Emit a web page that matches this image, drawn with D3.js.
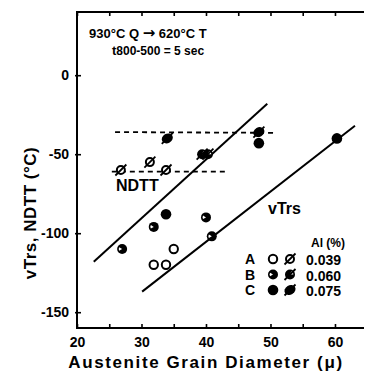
<!DOCTYPE html>
<html><head><meta charset="utf-8">
<script src="https://cdn.jsdelivr.net/npm/d3@7"></script>
<style>body{margin:0;background:#fff}svg{display:block}text{font-family:"Liberation Sans",Arial,sans-serif;fill:#000}</style>
</head><body><svg id="c" width="365" height="371"></svg>
<script>
// ---- data ----
const xTicks = [20, 30, 40, 50, 60];
const xMinorTicks = [25, 35, 45, 55];
const yTicks = [0, -50, -100, -150];
// vTrs points (plain circles): group A/B/C
const vtrsX = [31.9, 33.8, 35.0, 27.0, 31.9, 40.0, 40.9, 33.8, 48.2, 60.3];
const vtrsY = [-120, -120, -110, -110, -96, -90, -102, -88, -43, -40];
const vtrsG = ["A", "A", "A", "B", "B", "B", "B", "C", "C", "C"];
// NDTT points (slashed circles)
const ndttX = [26.8, 31.3, 33.8, 39.4, 40.3, 34.0, 48.2];
const ndttY = [-60, -55, -60, -50, -50, -40, -36];
const ndttG = ["A", "A", "A", "B", "B", "C", "C"];
// fitted lines
const upperLineX = [22.6, 49.5];
const upperLineY = [-118, -18];
const lowerLineX = [30.1, 63.1];
const lowerLineY = [-137, -32];
const dashHighX = [25.9, 51.0];
const dashHighY = [-36, -36.5];
const dashLowX = [25.4, 43.5];
const dashLowY = [-61, -61];
const legendGroups = ["A", "B", "C"];
const legendAl = ["0.039", "0.060", "0.075"];

const svg = d3.select("#c");
const x = d3.scaleLinear().domain([20, 64.5]).range([77, 364]);
const y = d3.scaleLinear().domain([-160, 40]).range([328, 12]);

// frame
const g = svg.append("g");
g.append("line").attr("x1", 77).attr("x2", 77).attr("y1", 12).attr("y2", 328).attr("stroke", "#000").attr("stroke-width", 2);
g.append("line").attr("x1", 76).attr("x2", 364).attr("y1", 12).attr("y2", 12).attr("stroke", "#000").attr("stroke-width", 2);
g.append("line").attr("x1", 76).attr("x2", 364).attr("y1", 328).attr("y2", 328).attr("stroke", "#000").attr("stroke-width", 2);

// axes via d3
const xb = svg.append("g").attr("transform", "translate(0,328)")
  .call(d3.axisBottom(x).tickValues(xTicks).tickSize(-4).tickPadding(9).tickFormat(d3.format("d")));
const xbm = svg.append("g").attr("transform", "translate(0,328)")
  .call(d3.axisBottom(x).tickValues(xMinorTicks).tickSize(-4).tickFormat(""));
const xt = svg.append("g").attr("transform", "translate(0,12)")
  .call(d3.axisTop(x).tickValues(xTicks.concat(xMinorTicks)).tickSize(-4).tickFormat(""));
const yl = svg.append("g").attr("transform", "translate(77,0)")
  .call(d3.axisLeft(y).tickValues(yTicks).tickSize(4).tickPadding(4).tickFormat(d => d < 0 ? "-" + Math.abs(d) : d));
[xb, xbm, xt, yl].forEach(a => {
  a.select(".domain").remove();
  a.selectAll(".tick line").attr("stroke", "#000").attr("stroke-width", 1.6);
  a.selectAll("text").attr("font-size", 14).attr("font-weight", "bold").attr("font-family", "Liberation Sans, Arial, sans-serif").attr("fill", "#000");
});
yl.selectAll(".tick line").attr("x1", -2).attr("x2", 4);

// lines
const line = d3.line().x(d => x(d[0])).y(d => y(d[1]));
const mk = (xs, ys) => xs.map((v, i) => [v, ys[i]]);
svg.append("path").attr("d", line(mk(upperLineX, upperLineY))).attr("stroke", "#000").attr("stroke-width", 2).attr("fill", "none");
svg.append("path").attr("d", line(mk(lowerLineX, lowerLineY))).attr("stroke", "#000").attr("stroke-width", 2).attr("fill", "none");
svg.append("path").attr("d", line(mk(dashHighX, dashHighY))).attr("stroke", "#000").attr("stroke-width", 1.8).attr("stroke-dasharray", "5,4").attr("fill", "none");
svg.append("path").attr("d", line(mk(dashLowX, dashLowY))).attr("stroke", "#000").attr("stroke-width", 1.8).attr("stroke-dasharray", "5,4").attr("fill", "none");

const R = 5;
function plainMarker(sel, grp) {
  if (grp === "A") {
    sel.append("circle").attr("r", R - 0.8).attr("fill", "#fff").attr("stroke", "#000").attr("stroke-width", 2);
  } else if (grp === "B") {
    sel.append("circle").attr("r", R).attr("fill", "#000");
    const arc = d3.arc().innerRadius(0).outerRadius(R - 1.6).startAngle(-2.1).endAngle(-1.0);
    sel.append("path").attr("d", arc()).attr("fill", "#fff");
  } else {
    sel.append("circle").attr("r", R + 0.3).attr("fill", "#000");
  }
}
function slashMarker(sel, grp) {
  if (grp === "A") {
    sel.append("circle").attr("r", R - 1).attr("fill", "#fff").attr("stroke", "#000").attr("stroke-width", 2);
  } else if (grp === "B") {
    sel.append("circle").attr("r", R).attr("fill", "#000");
    const arc = d3.arc().innerRadius(0).outerRadius(R - 1.6).startAngle(0.4).endAngle(1.6);
    sel.append("path").attr("d", arc()).attr("fill", "#fff");
  } else {
    sel.append("ellipse").attr("rx", R + 0.8).attr("ry", R - 0.3).attr("transform", "rotate(-30)").attr("fill", "#000");
  }
  sel.append("line").attr("x1", -R - 0.5).attr("y1", R + 0.5).attr("x2", R + 0.5).attr("y2", -R - 0.5).attr("stroke", "#000").attr("stroke-width", 1.8);
}

svg.append("g").selectAll("g").data(vtrsX.map((v, i) => ({x: v, y: vtrsY[i], g: vtrsG[i]})))
  .join("g").attr("transform", d => `translate(${x(d.x)},${y(d.y)})`)
  .each(function(d) { plainMarker(d3.select(this), d.g); });
svg.append("g").selectAll("g").data(ndttX.map((v, i) => ({x: v, y: ndttY[i], g: ndttG[i]})))
  .join("g").attr("transform", d => `translate(${x(d.x)},${y(d.y)})`)
  .each(function(d) { slashMarker(d3.select(this), d.g); });

// labels
svg.append("text").attr("x", 116).attr("y", 191).attr("font-size", 16).attr("font-weight", "bold").text("NDTT");
svg.append("text").attr("x", 268).attr("y", 214).attr("font-size", 16).attr("font-weight", "bold").text("vTrs");
const t1 = svg.append("text").attr("x", 89).attr("y", 38).attr("font-size", 13).attr("font-weight", "bold");
t1.append("tspan").text("930°C Q ");
t1.append("tspan").attr("font-family", "DejaVu Sans").attr("font-size", 15).text("→");
t1.append("tspan").text(" 620°C T");
const t2 = svg.append("text").attr("x", 112).attr("y", 55).attr("font-size", 13).attr("font-weight", "bold");
t2.append("tspan").text("t");
t2.append("tspan").attr("font-size", 12).text("800-500 = 5 sec");

// legend
svg.append("text").attr("x", 311).attr("y", 247).attr("font-size", 12).attr("font-weight", "bold").text("Al (%)");
legendGroups.forEach((grp, i) => {
  const yy = 259 + i * 15.5;
  svg.append("text").attr("x", 245).attr("y", yy + 5).attr("font-size", 14).attr("font-weight", "bold").text(grp);
  plainMarker(svg.append("g").attr("transform", `translate(273,${yy})`), grp);
  slashMarker(svg.append("g").attr("transform", `translate(290,${yy})`), grp);
  svg.append("text").attr("x", 306).attr("y", yy + 6).attr("font-size", 14).attr("font-weight", "bold").text(legendAl[i]);
});

// axis titles
svg.append("text").attr("x", 206).attr("y", 368).attr("text-anchor", "middle").attr("font-size", 17).attr("font-weight", "bold").attr("letter-spacing", 1.6).text("Austenite Grain Diameter (μ)");
svg.append("text").attr("transform", "translate(36,213) rotate(-90)").attr("text-anchor", "middle").attr("font-size", 17).attr("font-weight", "bold").attr("letter-spacing", 0.5).text("vTrs, NDTT (°C)");
</script></body></html>
